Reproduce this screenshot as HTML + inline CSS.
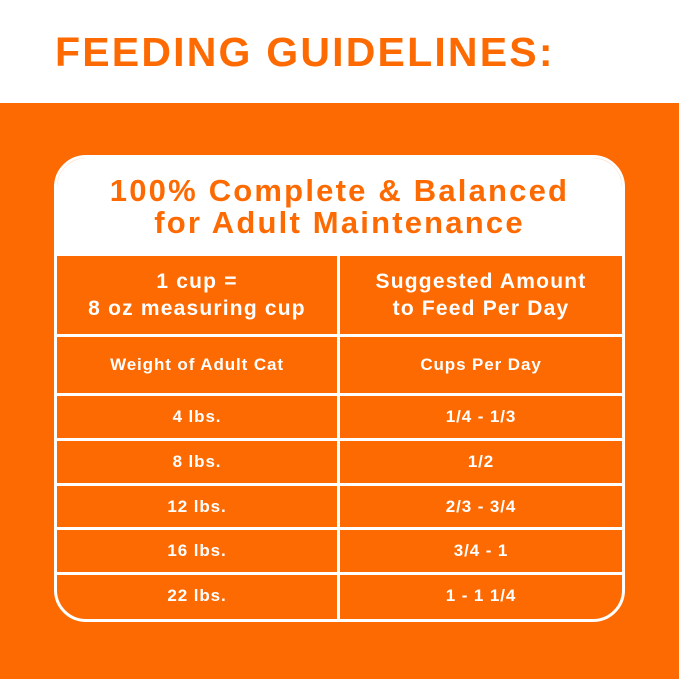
<!DOCTYPE html>
<html><head><style>
*{margin:0;padding:0;box-sizing:border-box}
body{width:679px;height:679px;background:#fe6a02;position:relative;overflow:hidden;font-family:"Liberation Sans",sans-serif;font-weight:bold}
#top{position:absolute;left:0;top:0;width:679px;height:103px;background:#fff}
#title{position:absolute;left:55px;top:29px;font-size:41px;color:#fe6a02;letter-spacing:2.2px;white-space:nowrap}
#card{position:absolute;left:54px;top:155px;width:571px;height:467px;border:3px solid #fff;border-radius:32px;overflow:hidden;background:#fe6a02}
#head{height:98px;background:#fff;color:#fe6a02;text-align:center;font-size:31px;letter-spacing:2.2px;line-height:32px;padding-top:17px}
.row{position:absolute;left:0;width:565px;border-top:3px solid #fff;color:#fff;display:flex;letter-spacing:0.9px}
.row div{width:282px;display:flex;align-items:center;justify-content:center;text-align:center}
.row div:first-child{border-right:3px solid #fff;width:283px}
</style></head><body>
<div id="top"></div>
<div id="title">FEEDING GUIDELINES:</div>
<div id="card">
<div id="head">100% Complete &amp; Balanced<br>for Adult Maintenance</div>
<div class="row" style="top:98px;height:78px;font-size:21px;line-height:27px;border-top:none;letter-spacing:1.2px"><div>1 cup =<br>8 oz measuring cup</div><div>Suggested Amount<br>to Feed Per Day</div></div>
<div class="row" style="top:176px;height:59px;font-size:17px"><div>Weight of Adult Cat</div><div>Cups Per Day</div></div>
<div class="row" style="top:235px;height:45px;font-size:17px"><div>4 lbs.</div><div>1/4 - 1/3</div></div>
<div class="row" style="top:280px;height:45px;font-size:17px"><div>8 lbs.</div><div>1/2</div></div>
<div class="row" style="top:325px;height:44px;font-size:17px"><div>12 lbs.</div><div>2/3 - 3/4</div></div>
<div class="row" style="top:369px;height:45px;font-size:17px"><div>16 lbs.</div><div>3/4 - 1</div></div>
<div class="row" style="top:414px;height:50px;font-size:17px"><div style="padding-bottom:6px">22 lbs.</div><div style="padding-bottom:6px">1 - 1 1/4</div></div>
</div>
</body></html>
